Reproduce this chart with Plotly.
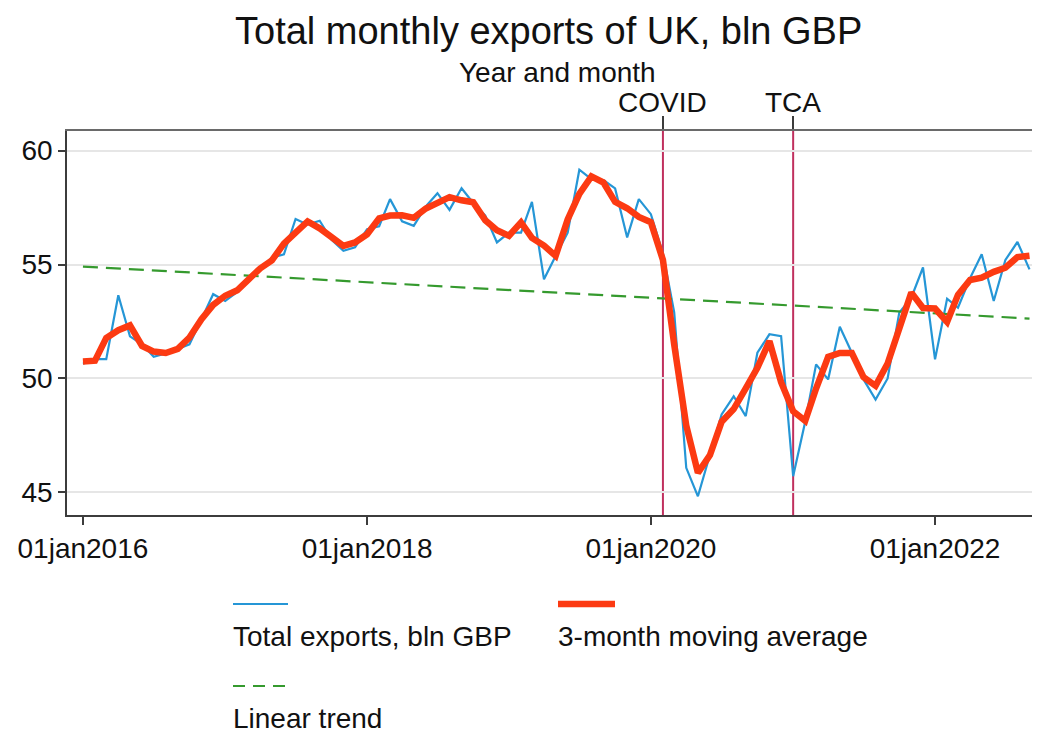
import plotly.graph_objects as go
import pandas as pd

# ---------------- data ----------------
start_month = "2016-01-01"
end_month = "2022-09-01"

exports_bln = [
    50.65, 50.85, 50.85, 53.65, 51.85, 51.50, 50.95, 51.10, 51.30, 51.50, 52.60, 53.70,  # 2016
    53.40, 53.80, 54.40, 54.80, 55.30, 55.45, 57.00, 56.75, 56.92, 56.10, 55.60, 55.76,  # 2017
    56.55, 56.68, 57.87, 56.90, 56.70, 57.55, 58.13, 57.40, 58.35, 57.70, 57.15, 55.97,  # 2018
    56.40, 56.40, 57.75, 54.35, 55.38, 56.40, 59.16, 58.75, 58.71, 58.34, 56.19, 57.87,  # 2019
    57.21, 55.50, 52.90, 46.08, 44.83, 46.67, 48.42, 49.22, 48.35, 51.13, 51.94, 51.86,  # 2020
    45.71, 48.10, 50.62, 49.96, 52.27, 51.13, 49.96, 49.08, 50.00, 52.89, 53.55, 54.87,  # 2021
    50.84, 53.50, 53.11, 54.40, 55.45, 53.40, 55.20, 55.99, 54.79,                      # 2022
]

moving_avg_3m = [
    50.75, 50.78, 51.78, 52.12, 52.33, 51.43, 51.18, 51.12, 51.30, 51.80, 52.60, 53.23,  # 2016
    53.63, 53.87, 54.33, 54.83, 55.18, 55.92, 56.40, 56.89, 56.59, 56.21, 55.82, 55.97,  # 2017
    56.33, 57.03, 57.15, 57.16, 57.05, 57.46, 57.69, 57.96, 57.82, 57.73, 56.94, 56.51,  # 2018
    56.26, 56.85, 56.17, 55.83, 55.38, 56.98, 58.10, 58.87, 58.60, 57.75, 57.47, 57.09,  # 2019
    56.86, 55.20, 51.49, 47.94, 45.86, 46.64, 48.10, 48.66, 49.57, 50.47, 51.64, 49.84,  # 2020
    48.56, 48.14, 49.56, 50.95, 51.12, 51.12, 50.06, 49.68, 50.66, 52.15, 53.77, 53.09,  # 2021
    53.07, 52.48, 53.67, 54.32, 54.42, 54.68, 54.86, 55.33, 55.39,                      # 2022
]

trend_dates = ["2016-01-01", "2022-09-01"]
trend_values = [54.91, 52.63]

event_dates = ["2020-02-01", "2021-01-01"]
event_labels = ["COVID", "TCA"]

x_tick_dates = ["2016-01-01", "2018-01-01", "2020-01-01", "2022-01-01"]
x_tick_labels = ["01jan2016", "01jan2018", "01jan2020", "01jan2022"]
y_tick_values = [45, 50, 55, 60]

title_text = "Total monthly exports of UK, bln GBP"
top_axis_title = "Year and month"
legend_labels = ["Total exports, bln GBP", "3-month moving average", "Linear trend"]

months = pd.date_range(start_month, end_month, freq="MS")

# ---------------- styling ----------------
OFF = 8                      # page body margin of the browser
W, H = 1040 - OFF, 735 - OFF
ML, MR, MT, MB = 67 - OFF, 0, 131 - OFF, 220
PW, PH = W - ML - MR, H - MT - MB
FONT = "Liberation Sans, Arial, Helvetica, sans-serif"
TXT = "#111111"
BLUE = "#2596d6"
RED = "#fc3a12"
GREEN = "#359a2e"
EVENT = "#c0305e"
AXIS = "#3c3c3c"
FS = 28


def px_x(x):
    return (x - OFF - ML) / PW


def px_y(y):
    return (H - MB - (y - OFF)) / PH


x_range = ["2015-11-21", "2022-09-28"]
y_range = [44.01, 60.86]

fig = go.Figure()
fig.add_trace(go.Scatter(x=months, y=exports_bln, mode="lines", name=legend_labels[0],
                         line=dict(color=BLUE, width=2.2), showlegend=False))
fig.add_trace(go.Scatter(x=trend_dates, y=trend_values, mode="lines", name=legend_labels[2],
                         line=dict(color=GREEN, width=2.2, dash="15px,8px"), showlegend=False))
fig.add_trace(go.Scatter(x=months, y=moving_avg_3m, mode="lines", name=legend_labels[1],
                         line=dict(color=RED, width=6.5), showlegend=False))
# invisible trace to anchor the top axis
fig.add_trace(go.Scatter(x=event_dates, y=[None, None], xaxis="x2", yaxis="y",
                         mode="lines", showlegend=False, hoverinfo="skip"))

shapes = []
for d in event_dates:
    shapes.append(dict(type="line", xref="x", yref="paper", x0=d, x1=d, y0=0, y1=1,
                       line=dict(color=EVENT, width=2), layer="between"))

annotations = []
# event labels above the top axis ticks
for d, lab in zip(event_dates, event_labels):
    annotations.append(dict(text=lab, xref="x", yref="paper", x=d, y=px_y(102),
                            xanchor="center", yanchor="middle", showarrow=False,
                            font=dict(size=FS, color=TXT, family=FONT)))

# manual legend (symbols stacked above labels, Stata style)
leg = [
    (233, 288, 604, BLUE, 2.2, "solid", 233, 636, legend_labels[0]),
    (558, 615, 604, RED, 6.5, "solid", 558, 636, legend_labels[1]),
    (233, 288, 686, GREEN, 2.2, "12px,8px", 233, 718, legend_labels[2]),
]
for x0, x1, yy, col, wd, dash, tx, ty, lab in leg:
    shapes.append(dict(type="line", xref="paper", yref="paper",
                       x0=px_x(x0), x1=px_x(x1), y0=px_y(yy), y1=px_y(yy),
                       line=dict(color=col, width=wd, dash=dash)))
    annotations.append(dict(text=lab, xref="paper", yref="paper", x=px_x(tx - 2), y=px_y(ty),
                            xanchor="left", yanchor="middle", showarrow=False,
                            font=dict(size=FS, color=TXT, family=FONT)))

annotations.append(dict(text=title_text, xref="paper", yref="paper",
                        x=px_x(548), y=px_y(31), xanchor="center", yanchor="middle",
                        showarrow=False, font=dict(size=38, color=TXT, family=FONT)))
annotations.append(dict(text=top_axis_title, xref="paper", yref="paper",
                        x=px_x(557), y=px_y(72), xanchor="center", yanchor="middle",
                        showarrow=False, font=dict(size=FS, color=TXT, family=FONT)))

fig.update_layout(
    width=W, height=H,
    margin=dict(l=ML, r=MR, t=MT, b=MB, pad=0),
    paper_bgcolor="white", plot_bgcolor="white",
    font=dict(family=FONT, size=FS, color=TXT),
    shapes=shapes, annotations=annotations,
    xaxis=dict(type="date", range=x_range, tickvals=x_tick_dates, ticktext=x_tick_labels,
               ticks="outside", ticklen=8, tickwidth=1.5, tickcolor=AXIS,
               showgrid=False, zeroline=False, showline=True, linecolor=AXIS, linewidth=1.5,
               tickfont=dict(size=FS, family=FONT, color=TXT)),
    xaxis2=dict(type="date", range=x_range, overlaying="x", side="top",
                tickvals=event_dates, showticklabels=False,
                ticks="outside", ticklen=13, tickwidth=1.5, tickcolor=AXIS,
                showgrid=False, zeroline=False, showline=True, linecolor="#6a6a6a", linewidth=2),
    yaxis=dict(range=y_range, tickvals=y_tick_values, ticks="outside", ticklen=7,
               tickwidth=1.5, tickcolor=AXIS, showgrid=True, gridcolor="#e6e6e6", gridwidth=1.5,
               zeroline=False, showline=True, linecolor=AXIS, linewidth=1.5,
               tickfont=dict(size=FS, family=FONT, color=TXT)),
)

fig.write_html("out.html")
